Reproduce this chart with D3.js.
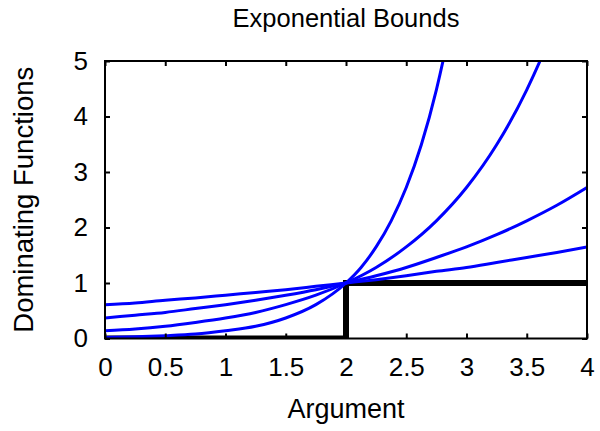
<!DOCTYPE html>
<html>
<head>
<meta charset="utf-8">
<script src="https://cdn.jsdelivr.net/npm/d3@7"></script>
<style>
  html, body { margin: 0; padding: 0; background: #fff; }
  text { font-family: "Liberation Sans", Arial, sans-serif; fill: #000; }
</style>
</head>
<body>
<svg id="chart" width="600" height="431"></svg>
<script>
const xs = [0, 0.25, 0.5, 0.75, 1, 1.25, 1.5, 1.75, 2, 2.25, 2.5, 2.75, 3, 3.25, 3.5, 3.75, 4];
const boundA = [0.61, 0.64, 0.69, 0.73, 0.78, 0.83, 0.88, 0.94, 1.00, 1.06, 1.13, 1.21, 1.28, 1.37, 1.46, 1.55, 1.65];
const boundB = [0.37, 0.42, 0.47, 0.54, 0.61, 0.69, 0.78, 0.88, 1.00, 1.13, 1.28, 1.46, 1.65, 1.87, 2.12, 2.40, 2.72];
const boundC = [0.14, 0.17, 0.22, 0.29, 0.37, 0.47, 0.61, 0.78, 1.00, 1.28, 1.65, 2.12, 2.72, 3.49, 4.48, 5.75, 7.39];
// steepest one leaves the frame near 2.8, so it has a few extra points there
const xsD = [0, 0.25, 0.5, 0.75, 1, 1.25, 1.5, 1.75, 2, 2.125, 2.25, 2.375, 2.5, 2.625, 2.75, 2.875, 3];
const boundD = [0.02, 0.03, 0.05, 0.08, 0.14, 0.22, 0.37, 0.61, 1.00, 1.28, 1.65, 2.12, 2.72, 3.49, 4.48, 5.75, 7.39];
// the step function (indicator of argument >= 2)
const stepX = [0, 2, 2, 4];
const stepY = [0, 0, 1, 1];

const xTicks = [0, 0.5, 1, 1.5, 2, 2.5, 3, 3.5, 4];
const yTicks = [0, 1, 2, 3, 4, 5];

const margin = { top: 61, right: 13, bottom: 92.5, left: 105 };
const width = 600 - margin.left - margin.right;
const height = 431 - margin.top - margin.bottom;

const svg = d3.select('#chart');
const g = svg.append('g').attr('transform', `translate(${margin.left},${margin.top})`);

const x = d3.scaleLinear().domain([0, 4]).range([0, width]);
const y = d3.scaleLinear().domain([0, 5]).range([height, 0]);

svg.append('defs').append('clipPath').attr('id', 'plot-clip')
    .append('rect').attr('width', width).attr('height', height);

const plot = g.append('g').attr('clip-path', 'url(#plot-clip)');

// step function
plot.append('path')
    .datum(stepX.map((v, i) => [v, stepY[i]]))
    .attr('fill', 'none')
    .attr('stroke', '#000')
    .attr('stroke-width', 6)
    .attr('d', d3.line().x(d => x(d[0])).y(d => y(d[1])));

// exponential bounds
const curves = [
    { xv: xs, yv: boundA },
    { xv: xs, yv: boundB },
    { xv: xs, yv: boundC },
    { xv: xsD, yv: boundD }
];
const line = d3.line().x(d => x(d[0])).y(d => y(d[1])).curve(d3.curveMonotoneX);
curves.forEach(c => {
    plot.append('path')
        .datum(c.xv.map((v, i) => [v, c.yv[i]]))
        .attr('fill', 'none')
        .attr('stroke', '#0000ff')
        .attr('stroke-width', 3)
        .attr('d', line);
});

// axes with inward ticks on all four sides
const styleAxis = sel => {
    sel.select('.domain').remove();
    sel.selectAll('line').attr('stroke', '#000').attr('stroke-width', 2);
    sel.selectAll('text').style('font-size', '26px').style('font-family', '"Liberation Sans", Arial, sans-serif');
};
g.append('g').attr('transform', `translate(0,${height})`)
    .call(d3.axisBottom(x).tickValues(xTicks).tickFormat(d3.format('')).tickSizeInner(-5).tickPadding(19))
    .call(styleAxis);
g.append('g')
    .call(d3.axisTop(x).tickValues(xTicks).tickFormat('').tickSizeInner(-5))
    .call(styleAxis);
g.append('g')
    .call(d3.axisLeft(y).tickValues(yTicks).tickFormat(d3.format('d')).tickSizeInner(-5).tickPadding(17))
    .call(styleAxis);
g.append('g').attr('transform', `translate(${width},0)`)
    .call(d3.axisRight(y).tickValues(yTicks).tickFormat('').tickSizeInner(-5))
    .call(styleAxis);

// frame
g.append('rect')
    .attr('width', width).attr('height', height)
    .attr('fill', 'none').attr('stroke', '#000').attr('stroke-width', 2);

// labels
svg.append('text')
    .attr('x', margin.left + width / 2).attr('y', 27)
    .attr('text-anchor', 'middle').style('font-size', '25.5px')
    .text('Exponential Bounds');
svg.append('text')
    .attr('x', margin.left + width / 2).attr('y', 418)
    .attr('text-anchor', 'middle').style('font-size', '27px')
    .text('Argument');
svg.append('text')
    .attr('transform', `translate(33,${margin.top + height / 2}) rotate(-90)`)
    .attr('text-anchor', 'middle').style('font-size', '27.5px')
    .text('Dominating Functions');
</script>
</body>
</html>
